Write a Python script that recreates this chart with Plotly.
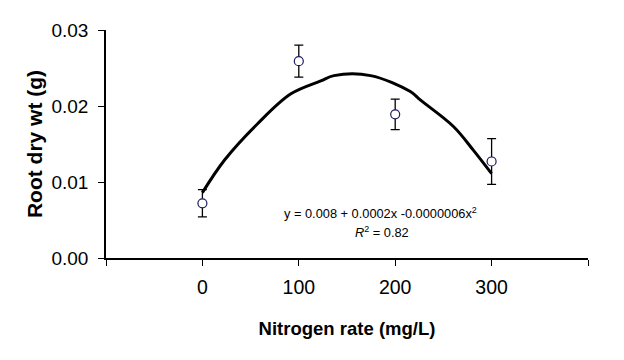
import plotly.graph_objects as go

# Observed means and standard errors
nitrogen = [0, 100, 200, 300]
root_wt = [0.0072, 0.0259, 0.0189, 0.0127]
root_err = [0.0018, 0.0021, 0.0020, 0.0030]

# Fitted curve
fit_x = [0, 23, 57.5, 91.8, 122.8, 136.5, 174.4, 215.7, 226, 260.4, 281, 300]
fit_y = [0.0086, 0.0129, 0.0177, 0.0216, 0.0233, 0.0240, 0.0240, 0.0219, 0.0208, 0.0173, 0.0142, 0.0111]

x_ticks = [0, 100, 200, 300]
x_ticktext = ["0", "100", "200", "300"]
x_end_ticks = [-100, 400]
y_ticks = [0, 0.01, 0.02, 0.03]
y_ticktext = ["0.00", "0.01", "0.02", "0.03"]

equation = "y = 0.008 + 0.0002x -0.0000006x<sup>2</sup>"
r2_text = "<i>R</i><sup>2</sup> = 0.82"

font_main = "Liberation Sans, Arial, sans-serif"

fig = go.Figure()
fig.add_trace(go.Scatter(
    x=fit_x, y=fit_y, mode="lines",
    line=dict(color="black", width=3, shape="spline", smoothing=1.0),
    hoverinfo="skip", showlegend=False,
))
fig.add_trace(go.Scatter(
    x=nitrogen, y=root_wt, mode="markers",
    marker=dict(symbol="circle", size=9, color="white",
                line=dict(color="#1a1a60", width=1.2)),
    error_y=dict(type="data", array=root_err, visible=True,
                 color="black", thickness=1.3, width=4.5),
    showlegend=False,
))

fig.add_annotation(x=184.7, y=0.0059, text=equation, showarrow=False,
                   font=dict(family=font_main, size=12.8, color="black"),
                   xanchor="center", yanchor="middle")
fig.add_annotation(x=186, y=0.0034, text=r2_text, showarrow=False,
                   font=dict(family=font_main, size=12.8, color="black"),
                   xanchor="center", yanchor="middle")

fig.update_layout(
    width=624, height=360,
    margin=dict(l=106, r=36, t=30, b=102),
    paper_bgcolor="white", plot_bgcolor="white",
    font=dict(family=font_main, color="black"),
)
fig.update_xaxes(
    range=[-100, 400], tickmode="array", tickvals=x_ticks, ticktext=x_ticktext,
    showgrid=False, zeroline=False, showline=True, linecolor="black", linewidth=1.5,
    ticks="outside", ticklen=6, tickwidth=1.3, tickcolor="black",
    minor=dict(tickmode="array", tickvals=x_end_ticks, ticks="outside",
               ticklen=6, tickwidth=1.3, tickcolor="black", showgrid=False),
    tickfont=dict(size=19.5, family=font_main), ticklabelstandoff=5,
    title=dict(text="<b>Nitrogen rate (mg/L)</b>", font=dict(size=18.5, family=font_main), standoff=25),
)
fig.update_yaxes(
    range=[0, 0.03], tickmode="array", tickvals=y_ticks, ticktext=y_ticktext,
    showgrid=False, zeroline=False, showline=True, linecolor="black", linewidth=1.5,
    ticks="outside", ticklen=6, tickwidth=1.3, tickcolor="black",
    tickfont=dict(size=19, family=font_main), ticklabelstandoff=6,
    title=dict(text="<b>Root dry wt (g)</b>", font=dict(size=21, family=font_main), standoff=3),
)

fig.write_html("out.html", config={"displayModeBar": False},
               post_script="document.body.style.margin='0';document.body.style.padding='0';")
